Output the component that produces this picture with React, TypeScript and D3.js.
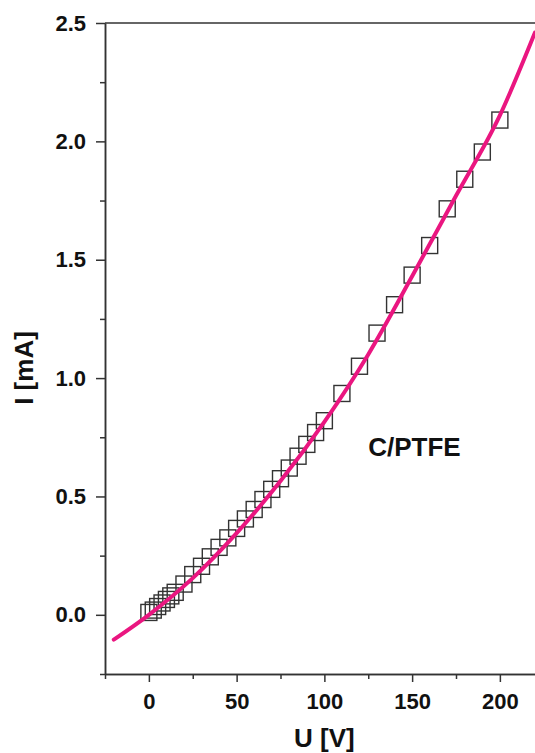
import { useEffect, useRef } from 'react';
import * as d3 from 'd3';

// measured points: voltage U [V] and current I [mA]
const voltages = [
  0, 2.5, 5, 7.5, 10, 12.5, 15, 20, 25, 30, 35, 40, 45, 50, 55, 60, 65, 70, 75, 80, 85, 90, 95, 100,
  110, 120, 130, 140, 150, 160, 170, 180, 190, 200,
];
const currents = [
  0.01, 0.02, 0.035, 0.05, 0.065, 0.08, 0.095, 0.13, 0.17, 0.205, 0.245, 0.285, 0.325, 0.365, 0.405,
  0.445, 0.487, 0.53, 0.575, 0.62, 0.67, 0.72, 0.77, 0.82, 0.935, 1.05, 1.19, 1.31, 1.435, 1.56,
  1.715, 1.84, 1.955, 2.09,
];

// fitted curve
const fitU = [-20, 0, 25, 50, 75, 100, 125, 150, 175, 200, 220];
const fitI = [-0.105, 0, 0.155, 0.345, 0.565, 0.815, 1.1, 1.43, 1.77, 2.11, 2.46];

const xMajor = [0, 50, 100, 150, 200];
const xMinor = [-25, 25, 75, 125, 175];
const yMajor = [0, 0.5, 1.0, 1.5, 2.0, 2.5];
const yMinor = [-0.25, 0.25, 0.75, 1.25, 1.75, 2.25];

const sampleLabel = 'C/PTFE';

export default function App() {
  const svgRef = useRef<SVGSVGElement>(null);

  useEffect(() => {
    if (!svgRef.current) return;
    d3.select(svgRef.current).selectAll('*').remove();

    const left = 105;
    const top = 23;
    const bottom = 674;
    const right = 543.75;
    const axisColor = '#333';
    const font = 'Liberation Sans, Arial, Helvetica, sans-serif';

    const svg = d3.select(svgRef.current);

    const x = d3.scaleLinear().domain([-25, 225]).range([left, right]);
    const y = d3.scaleLinear().domain([-0.25, 2.5]).range([bottom, top]);

    // top frame line
    svg
      .append('line')
      .attr('x1', left)
      .attr('x2', right)
      .attr('y1', top)
      .attr('y2', top)
      .attr('stroke', axisColor)
      .attr('stroke-width', 1.5);

    const styleAxis = (g: any) => {
      g.select('.domain').attr('stroke', axisColor).attr('stroke-width', 1.5);
      g.selectAll('.tick line').attr('stroke', axisColor).attr('stroke-width', 1.5);
      g.selectAll('text')
        .attr('font-family', font)
        .attr('font-weight', 'bold')
        .attr('font-size', 22)
        .attr('fill', '#111');
    };

    // X axis
    svg
      .append('g')
      .attr('transform', `translate(0,${bottom})`)
      .call(d3.axisBottom(x).tickValues(xMinor).tickSize(5).tickFormat(() => '').tickSizeOuter(0))
      .call(styleAxis);
    svg
      .append('g')
      .attr('transform', `translate(0,${bottom})`)
      .call(
        d3
          .axisBottom(x)
          .tickValues(xMajor)
          .tickSize(8)
          .tickPadding(11)
          .tickFormat(d3.format('d') as any)
          .tickSizeOuter(0)
      )
      .call(styleAxis);

    // Y axis
    svg
      .append('g')
      .attr('transform', `translate(${left},0)`)
      .call(d3.axisLeft(y).tickValues(yMinor).tickSize(5).tickFormat(() => '').tickSizeOuter(0))
      .call(styleAxis);
    svg
      .append('g')
      .attr('transform', `translate(${left},0)`)
      .call(
        d3
          .axisLeft(y)
          .tickValues(yMajor)
          .tickSize(9)
          .tickPadding(10)
          .tickFormat(d3.format('.1f') as any)
          .tickSizeOuter(0)
      )
      .call(styleAxis);

    // axis titles
    svg
      .append('text')
      .attr('x', (left + right) / 2)
      .attr('y', 747)
      .attr('text-anchor', 'middle')
      .attr('font-family', font)
      .attr('font-weight', 'bold')
      .attr('font-size', 26)
      .attr('fill', '#111')
      .text('U [V]');

    svg
      .append('text')
      .attr('transform', `translate(33,${368}) rotate(-90)`)
      .attr('text-anchor', 'middle')
      .attr('font-family', font)
      .attr('font-weight', 'bold')
      .attr('font-size', 26)
      .attr('fill', '#111')
      .text('I [mA]');

    // squares for measured points
    const pts = voltages.map((u, i) => ({ u, i: currents[i] }));
    const s = 16;
    svg
      .append('g')
      .selectAll('rect')
      .data(pts)
      .enter()
      .append('rect')
      .attr('x', (d) => x(d.u) - s / 2)
      .attr('y', (d) => y(d.i) - s / 2)
      .attr('width', s)
      .attr('height', s)
      .attr('fill', 'none')
      .attr('stroke', '#333')
      .attr('stroke-width', 1.4);

    // fit curve
    const fit = fitU.map((u, i) => ({ u, i: fitI[i] }));
    const line = d3
      .line<{ u: number; i: number }>()
      .x((d) => x(d.u))
      .y((d) => y(d.i))
      .curve(d3.curveMonotoneX);
    svg
      .append('path')
      .datum(fit)
      .attr('fill', 'none')
      .attr('stroke', '#ea1680')
      .attr('stroke-width', 4)
      .attr('stroke-linecap', 'round')
      .attr('d', line);

    // sample label
    svg
      .append('text')
      .attr('x', x(125))
      .attr('y', y(0.67))
      .attr('font-family', font)
      .attr('font-weight', 'bold')
      .attr('font-size', 26)
      .attr('fill', '#111')
      .text(sampleLabel);
  }, []);

  return (
    <svg
      ref={svgRef}
      width={535}
      height={753}
      style={{ position: 'absolute', left: 0, top: 0, background: '#fff', overflow: 'hidden' }}
    />
  );
}
